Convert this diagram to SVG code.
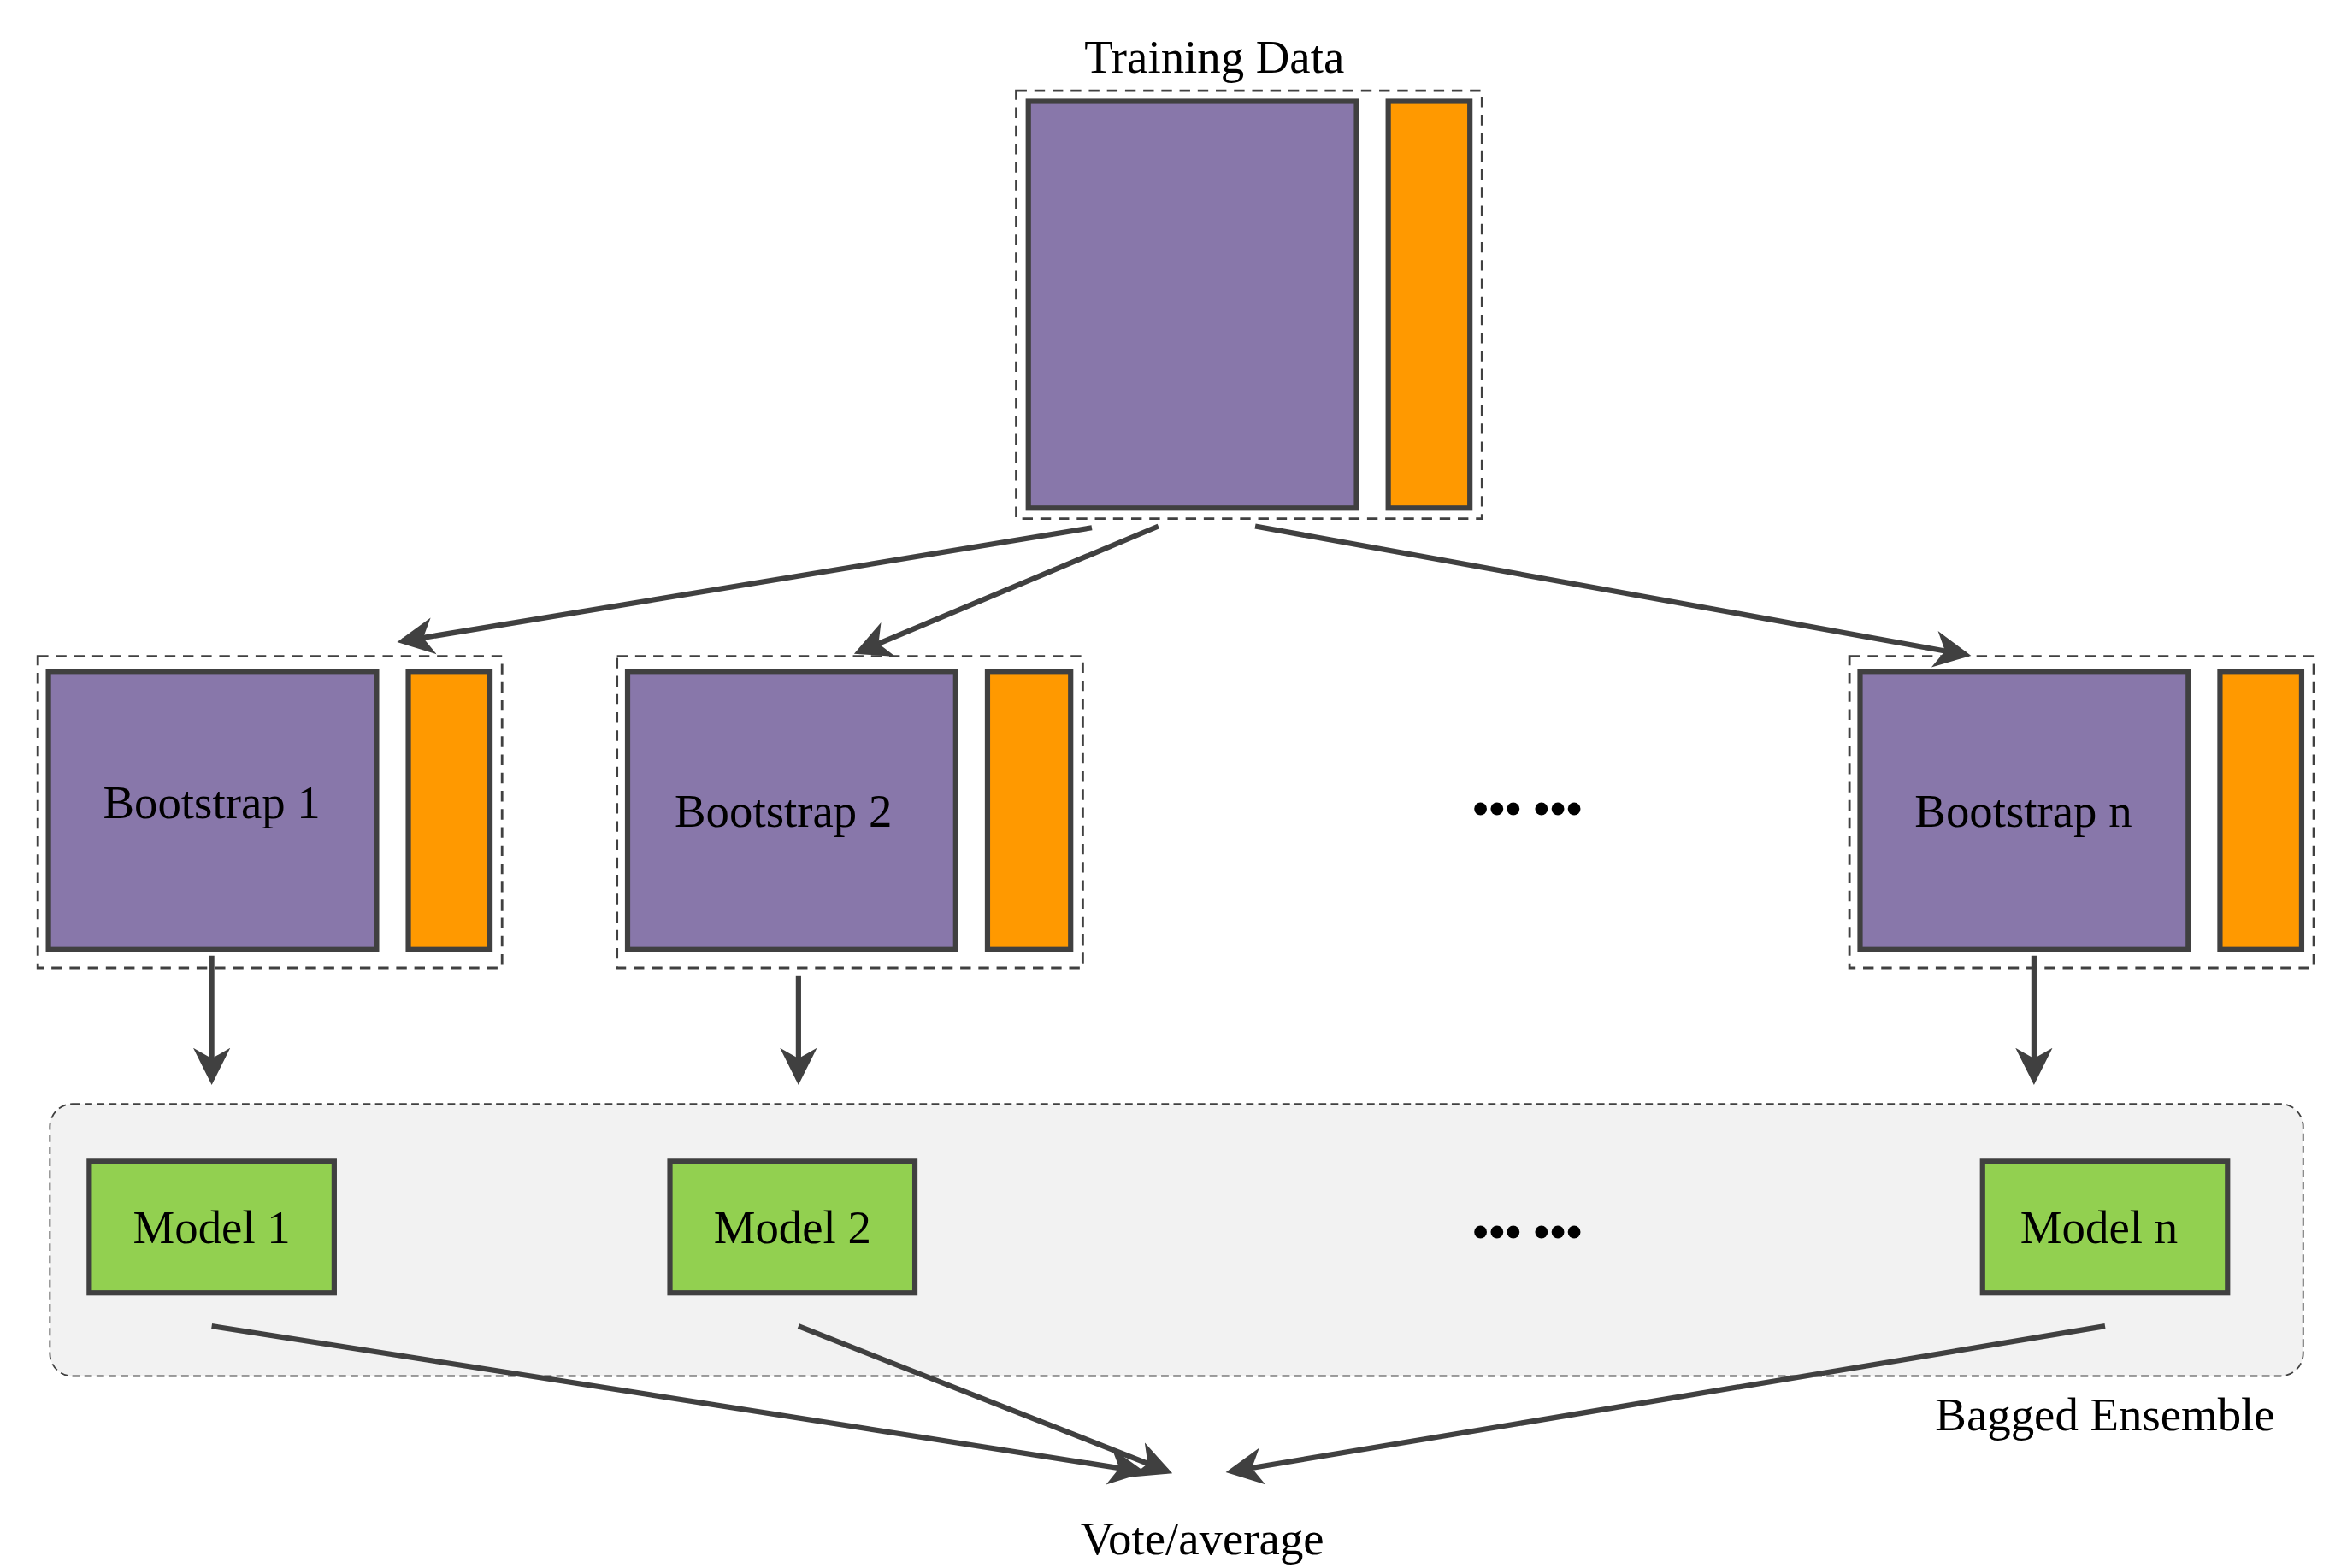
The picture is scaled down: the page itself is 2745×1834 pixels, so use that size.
<svg xmlns="http://www.w3.org/2000/svg" width="2745" height="1834" viewBox="0 0 2745 1834">
<style>
.dash{fill:none;stroke:#404040;stroke-width:1.6;stroke-dasharray:7,5}
.p{fill:#8877aa;stroke:#404040;stroke-width:3.5}
.o{fill:#ff9900;stroke:#404040;stroke-width:3.5}
.m{fill:#92d050;stroke:#404040;stroke-width:3.5}
.t{font-family:"Liberation Serif",serif;font-size:31px;fill:#000;text-anchor:middle}
.c line{stroke:#404040;stroke-width:3.5;marker-end:url(#ah)}
</style>
<defs><marker id="ah" markerWidth="8" markerHeight="8" refX="6" refY="4" orient="auto" markerUnits="strokeWidth"><path d="M0,0.5 L7,4 L0,7.5 L2,4 Z" fill="#404040"/></marker></defs>
<rect width="2745" height="1834" fill="#fff"/>
<g transform="scale(1.76869)">
<g id="ensemble"><rect x="33" y="730" width="1490" height="180" rx="15" fill="#f2f2f2" stroke="#404040" stroke-width="1" stroke-dasharray="5,3"/><text class="t" x="1392" y="946">Bagged Ensemble</text></g>
<g id="training"><rect class="dash" x="672" y="60" width="308" height="283"/><rect class="p" x="680" y="67" width="217" height="269"/><rect class="o" x="918" y="67" width="54" height="269"/><text class="t" x="803" y="48">Training Data</text></g>
<g id="boot1"><rect class="dash" x="25" y="434" width="307" height="206"/><rect class="p" x="32" y="444" width="217" height="184"/><rect class="o" x="270" y="444" width="54" height="184"/><text class="t" x="140" y="541">Bootstrap 1</text></g>
<g id="boot2"><rect class="dash" x="408" y="434" width="308" height="206"/><rect class="p" x="415" y="444" width="217" height="184"/><rect class="o" x="653" y="444" width="55" height="184"/><text class="t" x="518" y="547">Bootstrap 2</text></g>
<g id="bootn"><rect class="dash" x="1223" y="434" width="307" height="206"/><rect class="p" x="1230" y="444" width="217" height="184"/><rect class="o" x="1468" y="444" width="54" height="184"/><text class="t" x="1338" y="547">Bootstrap n</text></g>
<g id="dots1"><text class="t" x="1010" y="545" font-size="34" font-weight="bold">••• •••</text></g>
<g id="model1"><rect class="m" x="59" y="768" width="162" height="87"/><text class="t" x="140" y="822">Model 1</text></g>
<g id="model2"><rect class="m" x="443" y="768" width="162" height="87"/><text class="t" x="524" y="822">Model 2</text></g>
<g id="modeln"><rect class="m" x="1311" y="768" width="162" height="87"/><text class="t" x="1388" y="822">Model n</text></g>
<g id="dots2"><text class="t" x="1010" y="825" font-size="34" font-weight="bold">••• •••</text></g>
<g id="vote"><text class="t" x="795" y="1028">Vote/average</text></g>
<g class="c" id="connectors">
<line x1="722" y1="349" x2="266" y2="424"/>
<line x1="766" y1="348" x2="568" y2="431"/>
<line x1="830" y1="348" x2="1300" y2="433"/>
<line x1="140" y1="632" x2="140" y2="714"/>
<line x1="528" y1="645" x2="528" y2="714"/>
<line x1="1345" y1="632" x2="1345" y2="714"/>
<line x1="140" y1="877" x2="754" y2="973"/>
<line x1="528" y1="877" x2="772" y2="973"/>
<line x1="1392" y1="877" x2="814" y2="973"/>
</g>
</g>
</svg>
